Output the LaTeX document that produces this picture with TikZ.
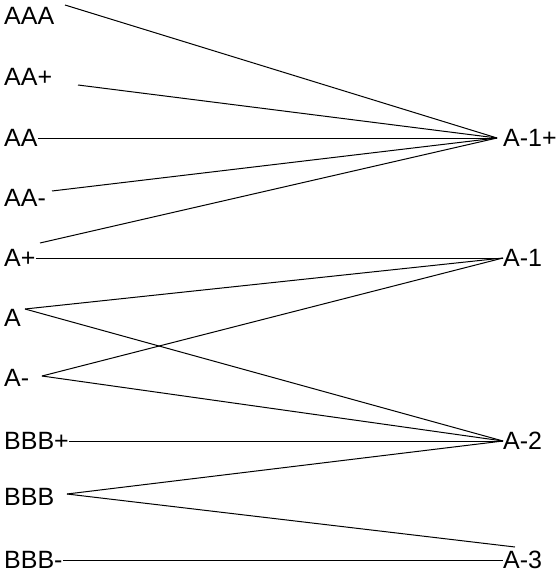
\documentclass[tikz,border=0pt]{standalone}
\usepackage{fontspec}
\setmainfont{Liberation Sans}
\usetikzlibrary{positioning}
\tikzset{
  grade/.style={inner sep=0pt, anchor=west, font=\fontsize{25}{29}\selectfont},
  link/.style={line width=1pt, black}
}
\begin{document}
\begin{tikzpicture}[x=1pt, y=-1pt]
  \useasboundingbox (0,0) rectangle (557,575);
  % left column
  \node[grade] (aaa) at (4,16) {AAA};
  \node[grade] (aap) at (4,77) {AA+};
  \node[grade] (aa) at (4,138) {AA};
  \node[grade] (aam) at (4,198) {AA-};
  \node[grade] (ap) at (4,258) {A+};
  \node[grade] (a) at (4,318) {A};
  \node[grade] (am) at (4,378) {A-};
  \node[grade] (bbbp) at (4,441) {BBB+};
  \node[grade] (bbb) at (4,497) {BBB};
  \node[grade] (bbbm) at (4,560) {BBB-};
  % right column
  \node[grade] (r1p) at (503,138) {A-1+};
  \node[grade] (r1) at (503,258) {A-1};
  \node[grade] (r2) at (503,441) {A-2};
  \node[grade] (r3) at (503,560) {A-3};
  % ends of the links
  \coordinate (aaa-o) at (65,5);
  \coordinate (aap-o) at (78,85);
  \coordinate (aam-o) at (52,191);
  \coordinate (ap-o) at (40,243);
  \coordinate (a-o) at (25,309);
  \coordinate (am-o) at (42,376);
  \coordinate (bbb-o) at (67,494);
  \coordinate (r1p-i) at (497,138);
  \coordinate (r3-i) at (515,547);
  \draw[link] (aaa-o) -- (r1p-i);
  \draw[link] (aap-o) -- (r1p-i);
  \draw[link] (aa.east) -- (r1p-i);
  \draw[link] (aam-o) -- (r1p-i);
  \draw[link] (ap-o) -- (r1p-i);
  \draw[link] (ap.east) -- (r1.west);
  \draw[link] (a-o) -- (r1.west);
  \draw[link] (a-o) -- (r2.west);
  \draw[link] (am-o) -- (r1.west);
  \draw[link] (am-o) -- (r2.west);
  \draw[link] (bbbp.east) -- (r2.west);
  \draw[link] (bbb-o) -- (r2.west);
  \draw[link] (bbb-o) -- (r3-i);
  \draw[link] (bbbm.east) -- (r3.west);
\end{tikzpicture}
\end{document}
